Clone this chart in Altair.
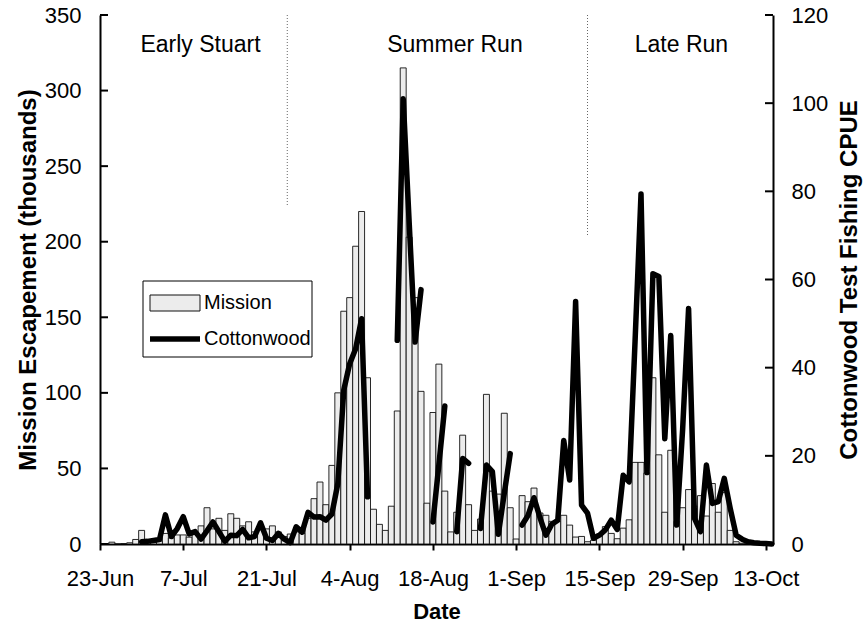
import json
import altair as alt
import pandas as pd

FONT = "Liberation Sans"

# ---------------- data ----------------
tick_days = [0, 14, 28, 42, 56, 70, 84, 98, 112]
tick_labels = ["23-Jun", "7-Jul", "21-Jul", "4-Aug", "18-Aug", "1-Sep", "15-Sep", "29-Sep", "13-Oct"]

# Mission escapement (thousands), one value per day from 23-Jun
mission = [
    0, 0.3, 1.2, 0, 0.3, 0.8, 3, 9, 1.5, 1.5,
    2, 7, 4, 6, 6, 4.5, 8, 12, 24, 10,
    17, 9, 20, 17, 12, 14.7, 8, 10, 10, 12,
    8, 5, 6.6, 8, 7, 17, 30, 41, 26, 52,
    100, 154, 163, 197, 220, 110, 23, 13, 9, 25,
    88, 315, 203, 163, 101, 27, 87, 119, 35, 8,
    21, 72, 26, 9, 16.5, 99, 35, 33, 86.5, 24,
    3.3, 32, 28, 37, 20.5, 19, 15, 15, 19, 12.5,
    4.6, 5, 1.5, 2.5, 6.6, 11.5, 7, 3.5, 10.5, 16,
    54, 54, 47, 110, 59, 21, 62, 15, 24, 36,
    25, 32, 18.5, 40, 21, 34, 9, 1.5, 0.5, 0,
    0, 0, 0, 0,
]

# Cottonwood test fishing CPUE, None = no fishing that day
N = None
cottonwood = [
    N, N, N, N, N, N, N, 0.5, 0.6, 0.8,
    1.0, 6.6, 1.7, 3.5, 6.2, 2.3, 2.8, 1.1, 3.0, 5.0,
    2.8, 0.6, 2.0, 1.9, 3.3, 1.4, 1.7, 4.8, 1.3, 0.8,
    2.4, 1.1, 0.3, 3.9, 2.7, 7.2, 6.1, 6.2, 5.4, 6.8,
    13.7, 34.9, 40.9, 44.3, 51.1, 10.7, N, N, N, N,
    46.2, 101, 73, 45.8, 57.7, N, 5, 18, 31.3, N,
    2.8, 19.4, 18.3, N, 3.5, 17.9, 16.4, 2.2, 11.5, 20.5,
    N, 4.3, 6.5, 10.5, 6, 2, 4.5, 5.4, 23.5, 14.5,
    55, 8.8, 7, 1.3, 2, 3.2, 5.4, 3.3, 15.6, 14.1,
    46, 79.4, 16.2, 61.3, 60.7, 23.9, 47.3, 4.3, 26, 53.4,
    5.8, 2.8, 17.9, 9.2, 9.6, 14.9, 8.1, 2, 1.1, 0.5,
    0.3, 0.15, 0.1, 0,
]

left_ticks = [0, 50, 100, 150, 200, 250, 300, 350]
right_ticks = [0, 20, 40, 60, 80, 100, 120]

run_names = ["Early Stuart", "Summer Run", "Late Run"]
run_centre_day = [16.9, 59.7, 97.8]
run_boundary_day = [31.5, 82.0]
run_boundary_bottom = [223, 204]

legend_labels = ["Mission", "Cottonwood"]

# ---------------- tables ----------------
days = list(range(len(mission)))
df_m = pd.DataFrame({"day": days, "mission": mission})

cw = pd.Series(cottonwood, dtype=float)
df_c = pd.DataFrame({"day": days, "cpue": cw, "seg": cw.isna().cumsum()})
df_c = df_c[df_c["cpue"].notna()]

df_lt = pd.DataFrame({"v": left_ticks})
df_rt = pd.DataFrame({"v": right_ticks})
df_runs = pd.DataFrame({"name": run_names, "day": run_centre_day, "level": [330] * 3})
df_bounds = pd.DataFrame({"day": run_boundary_day, "top": [350] * 2, "bottom": run_boundary_bottom})
one = pd.DataFrame({"k": [1]})

W, H = 673, 529
X_MAX = 113.2

x_scale = alt.Scale(domain=[0, X_MAX], nice=False, zero=False)
label_expr = f"{json.dumps(tick_labels)}[indexof({json.dumps(tick_days)}, datum.value)]"
x_axis = alt.Axis(
    values=tick_days, labelExpr=label_expr, title="Date", grid=False,
    labelFlush=False, labelOverlap=False,
    domainColor="black", domainWidth=2, tickColor="black", tickWidth=2, tickSize=6,
    labelFont=FONT, labelFontSize=22, labelColor="black", labelPadding=18,
    titleFont=FONT, titleFontSize=22, titleFontWeight="bold", titleColor="black", titlePadding=12,
)
yl_scale = alt.Scale(domain=[0, 350], nice=False, zero=True)
yr_scale = alt.Scale(domain=[0, 120], nice=False, zero=True)

left_axis = alt.Axis(
    orient="left", values=left_ticks, grid=False, tickSize=0,
    domainColor="black", domainWidth=2,
    labelFont=FONT, labelFontSize=22, labelColor="black", labelPadding=19,
    title="Mission Escapement (thousands)", titleFont=FONT, titleFontSize=24,
    titleFontWeight="bold", titleColor="black", titlePadding=4,
)
right_axis = alt.Axis(
    orient="right", values=right_ticks, grid=False, tickSize=0,
    domainColor="black", domainWidth=2,
    labelFont=FONT, labelFontSize=22, labelColor="black", labelPadding=18,
    title="Cottonwood Test Fishing CPUE", titleFont=FONT, titleFontSize=24,
    titleFontWeight="bold", titleColor="black", titlePadding=10,
    titleAngle=270, titleBaseline="top",
)

bars = alt.Chart(df_m).transform_calculate(
    x0="datum.day - 0.5", x1="datum.day + 0.5"
).mark_bar(fill="#ececec", stroke="#111111", strokeWidth=0.9, clip=True).encode(
    x=alt.X("x0:Q", scale=x_scale, axis=x_axis),
    x2="x1:Q",
    y=alt.Y("mission:Q", scale=yl_scale, axis=left_axis),
    y2=alt.datum(0),
)

line = alt.Chart(df_c).mark_line(
    color="black", strokeWidth=5.5, strokeCap="round", strokeJoin="round"
).encode(
    x=alt.X("day:Q", scale=x_scale, axis=x_axis),
    y=alt.Y("cpue:Q", scale=yr_scale, axis=right_axis),
    detail="seg:N",
)

lticks = alt.Chart(df_lt).mark_rule(color="black", strokeWidth=2).encode(
    y=alt.Y("v:Q", scale=yl_scale, axis=None), x=alt.value(0), x2=alt.value(8)
)
rticks = alt.Chart(df_rt).mark_rule(color="black", strokeWidth=2).encode(
    y=alt.Y("v:Q", scale=yr_scale, axis=None), x=alt.value(W - 8), x2=alt.value(W)
)

bounds = alt.Chart(df_bounds).mark_rule(color="#666666", strokeWidth=1, strokeDash=[1, 2]).encode(
    x=alt.X("day:Q", scale=x_scale, axis=x_axis),
    y=alt.Y("top:Q", scale=yl_scale, axis=None),
    y2="bottom:Q",
)

runs = alt.Chart(df_runs).mark_text(font=FONT, fontSize=23, color="black", align="center", baseline="middle").encode(
    x=alt.X("day:Q", scale=x_scale, axis=x_axis),
    y=alt.Y("level:Q", scale=yl_scale, axis=None),
    text="name:N",
)

# legend (placed inside the plot)
leg_box = alt.Chart(one).mark_rect(fill="white", stroke="black", strokeWidth=1).encode(
    x=alt.value(43), x2=alt.value(212), y=alt.value(266), y2=alt.value(342)
)
leg_swatch = alt.Chart(one).mark_rect(fill="#ececec", stroke="#111111", strokeWidth=1).encode(
    x=alt.value(50), x2=alt.value(100), y=alt.value(280), y2=alt.value(296)
)
leg_line = alt.Chart(one).mark_rule(color="black", strokeWidth=5.5).encode(
    x=alt.value(50), x2=alt.value(100), y=alt.value(324)
)
leg_t1 = alt.Chart(one).mark_text(font=FONT, fontSize=20, color="black", align="left", baseline="middle").encode(
    x=alt.value(104), y=alt.value(288), text=alt.value(legend_labels[0])
)
leg_t2 = alt.Chart(one).mark_text(font=FONT, fontSize=20, color="black", align="left", baseline="middle").encode(
    x=alt.value(104), y=alt.value(324), text=alt.value(legend_labels[1])
)

chart = alt.layer(
    bars, line, lticks, rticks, bounds, runs,
    leg_box, leg_swatch, leg_line, leg_t1, leg_t2,
).resolve_scale(y="independent").properties(
    width=W, height=H,
    autosize=alt.AutoSizeParams(type="none"),
    padding={"left": 100, "top": 15, "right": 865 - 100 - W, "bottom": 634 - 15 - H},
    background="white",
).configure_view(stroke=None)

chart.save("out.html", embed_options={"renderer": "svg", "actions": False})
